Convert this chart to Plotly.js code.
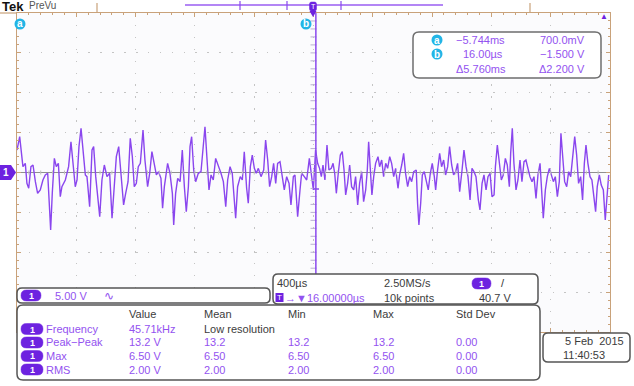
<!DOCTYPE html>
<html><head><meta charset="utf-8">
<script src="https://cdn.plot.ly/plotly-3.0.1.min.js"></script>
<style>html,body{margin:0;padding:0;background:#fff}#c{width:634px;height:386px}</style>
</head><body><div id="c"></div>
<script>
// ---- data ----
const timeUs = [-2000,-1982,-1960,-1944,-1933,-1921,-1906,-1892,-1876,-1861,-1843,-1825,-1809,-1793,-1780,-1773,-1762,-1748,-1735,-1721,-1708,-1697,-1674,-1652,-1636,-1622,-1607,-1595,-1582,-1568,-1555,-1539,-1528,-1510,-1494,-1483,-1469,-1456,-1442,-1427,-1411,-1393,-1375,-1359,-1344,-1330,-1314,-1299,-1281,-1267,-1251,-1236,-1222,-1209,-1195,-1182,-1168,-1150,-1137,-1119,-1105,-1090,-1074,-1060,-1045,-1029,-1018,-1006,
-984,-968,-952,-943,-930,-916,-900,-885,-871,-858,-844,-833,-822,-808,-795,-777,-759,-745,-732,-718,-705,-691,-676,-660,-642,-624,-608,-592,-579,-563,-548,-534,-525,-512,-494,-480,-467,-451,-440,-426,-413,-399,-386,-372,-354,-336,-323,-309,-296,-282,-269,-255,-242,-226,-210,-197,-181,-165,-152,-136,-125,-107,-91,-80,-62,-46,-28,-12,-1,
14,28,41,53,64,77,91,104,120,132,143,154,167,181,194,206,217,230,244,257,271,284,298,311,325,338,352,363,372,383,394,406,419,435,446,460,473,487,500,514,527,541,554,570,581,595,608,621,635,649,662,676,693,702,711,723,734,747,761,774,788,801,815,824,837,851,864,878,891,905,918,932,945,959,972,986,
1002,1015,1029,1042,1056,1069,1083,1096,1112,1123,1137,1150,1164,1177,1191,1204,1218,1227,1240,1253,1267,1280,1294,1307,1321,1330,1341,1352,1366,1379,1393,1406,1420,1433,1447,1460,1474,1487,1501,1514,1528,1539,1550,1564,1577,1591,1604,1618,1631,1645,1658,1669,1681,1694,1708,1721,1735,1748,1762,1775,1788,1802,1815,1827,1838,1851,1865,1878,1892,1903,1914,1928,1941,1955,1968,1982,1991];
const volts = [2.82,4.49,0.73,1.15,-1.36,-1.98,0.73,0.94,-1.15,-2.61,-2.19,-0.94,-0.31,-0.10,-4.70,-7.20,-2.61,1.77,0.73,1.15,-3.03,-1.78,-0.94,0.73,3.86,0.73,-1.78,-0.94,3.24,5.53,2.40,-0.31,-0.52,-4.28,2.82,3.24,-0.52,-2.61,-5.53,-0.94,0.94,-0.52,-0.10,-5.74,-1.36,1.98,3.24,-0.52,-4.07,-2.61,-1.15,4.28,1.98,-1.78,-1.36,0.73,1.15,5.33,1.57,-1.78,-0.10,2.61,1.15,-0.31,0.10,-0.73,-4.49,-1.78,
1.15,-0.10,-2.61,-6.58,-2.61,-0.73,-1.15,2.82,-1.78,-4.91,-1.78,3.24,4.49,0.31,-1.15,-0.10,0.10,3.66,5.74,1.57,-2.19,-0.31,-0.94,1.77,0.94,-0.10,-1.15,-4.28,-0.94,0.73,-0.10,-3.86,-5.74,-1.78,-0.52,-0.94,2.61,-1.98,-3.86,0.73,2.19,0.52,-0.10,0.52,-0.52,0.31,4.07,1.57,-1.78,-0.52,1.15,-1.36,1.15,1.36,-0.94,-2.19,-0.52,-1.36,-4.07,-0.52,-0.31,-5.53,-2.19,-0.10,-0.52,-0.94,1.77,-0.52,-2.19,
2.82,1.15,0.52,-0.52,0.94,-0.94,3.45,0.31,0.52,1.15,-0.10,-2.61,-0.10,2.19,2.61,0.31,-2.82,-1.36,0.94,-1.78,-2.19,-0.52,-4.07,-1.36,0.10,-3.65,-2.19,0.31,3.86,-0.10,-2.82,-0.52,1.15,1.98,0.73,1.57,-0.52,1.15,0.52,1.98,1.15,-0.52,0.52,-1.98,-0.31,0.94,2.40,-0.10,-1.78,-0.52,-1.15,0.10,0.31,-3.86,-6.58,-3.86,-0.31,0.10,-1.15,-2.19,-0.10,1.15,-0.52,-2.19,0.31,2.40,0.73,1.57,-0.31,0.73,3.24,0.94,-0.31,0.10,1.15,-2.40,
0.31,2.82,0.73,-0.52,-3.45,0.52,0.10,-0.52,-3.45,-4.70,-1.36,-0.31,-2.19,-0.52,-0.10,-3.03,-2.82,0.73,3.45,0.94,-0.94,-0.31,1.77,0.94,-1.78,2.40,5.53,1.15,-2.19,-0.94,1.57,-1.15,1.36,1.57,0.31,-0.52,-1.15,-0.52,-3.24,-0.31,1.15,-3.03,-5.74,-2.19,-0.52,0.52,-0.31,-1.15,-0.52,-3.03,-1.15,4.91,1.98,-1.15,-1.78,0.10,-0.52,2.40,4.49,2.19,-1.36,-0.52,-3.45,1.15,3.45,1.15,-0.52,-0.94,-3.03,-4.91,-1.78,-0.31,-1.57,-2.19,-5.95,-2.19,-0.31];

const timePerDivUs = 400;
const voltsPerDiv = 5;
const cursorBTimeUs = 16;
const cursorTimeText = ['\u22125.744ms', '16.00\u00b5s', '\u03945.760ms'];
const cursorVoltText = ['700.0mV', '\u22121.500 V', '\u03942.200 V'];
const chScaleText = '5.00 V';
const horizTexts = ['400\u00b5s', '2.50MS/s', '16.00000\u00b5s', '10k points', '40.7 V'];
const measHeaders = ['Value', 'Mean', 'Min', 'Max', 'Std Dev'];
const measNames = ['Frequency', 'Peak\u2212Peak', 'Max', 'RMS'];
const measValue = ['45.71kHz', '13.2 V', '6.50 V', '2.00 V'];
const measMean = ['Low resolution', '13.2', '6.50', '2.00'];
const measMin = ['', '13.2', '6.50', '2.00'];
const measMax = ['', '13.2', '6.50', '2.00'];
const measStd = ['', '0.00', '0.00', '0.00'];
const dateText = ['5 Feb  2015', '11:40:53'];

// ---- geometry helpers ----
const L = 17, R = 610, T = 13, B = 332;
const px = x => (x - L) / (R - L);
const py = y => (B - y) / (B - T);
const F = 'Liberation Sans, Arial, sans-serif';
const PURP = '#9352f0', DARKP = '#6d22e0', TAN = '#c9a27a', GRAY = '#3c3c3c', CYAN = '#22b5e6';

function rr(x0, y0, x1, y1, r) {
  const P = (x, y) => px(x).toFixed(5) + ',' + py(y).toFixed(5);
  return 'M' + P(x0 + r, y0) + ' L' + P(x1 - r, y0) + ' Q' + P(x1, y0) + ' ' + P(x1, y0 + r) +
    ' L' + P(x1, y1 - r) + ' Q' + P(x1, y1) + ' ' + P(x1 - r, y1) +
    ' L' + P(x0 + r, y1) + ' Q' + P(x0, y1) + ' ' + P(x0, y1 - r) +
    ' L' + P(x0, y0 + r) + ' Q' + P(x0, y0) + ' ' + P(x0 + r, y0) + ' Z';
}
const shapes = [];
const ann = [];
function box(x0, y0, x1, y1, r, fill, line, w) {
  shapes.push({type: 'path', xref: 'paper', yref: 'paper', path: rr(x0, y0, x1, y1, r),
    fillcolor: fill, line: {color: line, width: w === undefined ? 1.5 : w}});
}
function seg(x0, y0, x1, y1, color, w) {
  shapes.push({type: 'line', xref: 'paper', yref: 'paper', x0: px(x0), y0: py(y0), x1: px(x1), y1: py(y1),
    line: {color: color, width: w || 1}});
}
function txt(x, y, text, color, size, anchor, extra) {
  ann.push(Object.assign({xref: 'paper', yref: 'paper', x: px(x), y: py(y), text: text, showarrow: false,
    xanchor: anchor || 'left', yanchor: 'middle', borderpad: 0,
    font: {family: F, size: size || 11, color: color || PURP}}, extra || {}));
}
function pill(x0, y0, x1, y1) {
  box(x0, y0, x1, y1, (y1 - y0) / 2, DARKP, DARKP, 0.5);
  txt((x0 + x1) / 2, (y0 + y1) / 2 + 0.5, '1', '#ffffff', 9, 'center', {font: {family: F, size: 9, color: '#fff', weight: 'bold'}});
}
function circ(cx, cy, r, letter) {
  shapes.push({type: 'circle', xref: 'paper', yref: 'paper', x0: px(cx - r), x1: px(cx + r), y0: py(cy + r), y1: py(cy - r),
    fillcolor: CYAN, line: {color: CYAN, width: 0}});
  txt(cx, cy, letter, '#ffffff', 10, 'center', {font: {family: F, size: 10, color: '#fff', weight: 'bold'}});
}

// graticule centre-line minor ticks (decoration)
for (let k = 1; k < 40; k++) {
  const y = T + k * (B - T) / 40;
  seg(310.5, y, 316.5, y, '#b9b0d0', 1);
}
for (let k = 1; k < 50; k++) {
  const x = L + k * (R - L) / 50;
  seg(x, 170.5, x, 174.5, '#c0c0c0', 1);
}

// ---- top record-view bar ----
seg(0, T, L, T, TAN, 1.2);
seg(97, 3, 97, T, TAN, 1.2);
seg(530, 3, 530, T, TAN, 1.2);
seg(185, 5, 443, 5, '#9a5ef2', 1.6);
[240, 287, 341].forEach(x => seg(x, 1, x, 10, '#8a48ee', 1.2));
// trigger position marker
box(309.5, 2, 316.5, 11, 2, DARKP, DARKP, 0.5);
shapes.push({type: 'path', xref: 'paper', yref: 'paper', path: 'M' + px(309.5) + ',' + py(11) + ' L' + px(316.5) + ',' + py(11) + ' L' + px(313) + ',' + py(17) + ' Z', fillcolor: DARKP, line: {width: 0}});
txt(313, 6.5, 'T', '#ffffff', 7, 'center');
// cursor b vertical line
shapes.push({type: 'line', xref: 'x', yref: 'paper', x0: cursorBTimeUs, x1: cursorBTimeUs, y0: 0, y1: 1,
  line: {color: '#8a48ee', width: 1.5}});
seg(313, 189, 319, 189, '#8a48ee', 1.5);
// channel 1 ground marker
shapes.push({type: 'path', xref: 'paper', yref: 'paper',
  path: 'M' + px(0) + ',' + py(165) + ' L' + px(11) + ',' + py(165) + ' L' + px(16) + ',' + py(172.5) + ' L' + px(11) + ',' + py(180) + ' L' + px(0) + ',' + py(180) + ' Z',
  fillcolor: DARKP, line: {width: 0}});
txt(6, 173, '1', '#ffffff', 10, 'center', {font: {family: F, size: 10, color: '#fff', weight: 'bold'}});

// cursor labels
circ(20, 24, 5.5, 'a');
circ(306, 24, 5.5, 'b');
txt(604, 17, '\u25b2', '#6d22e0', 8, 'center');

// Tek PreVu
txt(1, 7, 'Tek', '#111111', 13, 'left', {font: {family: F, size: 13, color: '#111', weight: 'bold'}});
txt(28, 6, 'PreVu', '#555555', 10);

// cursor readout box
box(413, 32, 601, 78, 6, '#ffffff', '#6e6e6e', 1.5);
circ(437, 40, 5.5, 'a');
circ(437, 54, 5.5, 'b');
txt(455, 40, cursorTimeText[0]);
txt(462, 54, cursorTimeText[1]);
txt(455, 69, cursorTimeText[2]);
cursorVoltText.forEach((s, i) => txt(586, 40 + i * 14.5, s, PURP, 11, 'right'));

// channel box
box(17, 288, 270, 303, 5, '#ffffff', '#555555', 1.5);
pill(21, 290, 41, 301);
txt(54, 295.5, chScaleText);
txt(103, 295.5, '\u223f', PURP, 12);

// horizontal / trigger box
box(273, 274, 538, 304, 5, '#ffffff', '#555555', 1.5);
txt(276, 283, horizTexts[0], GRAY);
txt(383, 283, horizTexts[1], GRAY);
pill(472, 278, 491, 289);
txt(500, 283, '/', '#333333', 11);
shapes.push({type: 'rect', xref: 'paper', yref: 'paper', x0: px(275.5), x1: px(283.5), y0: py(302), y1: py(293), fillcolor: DARKP, line: {width: 0}});
txt(279.5, 297.5, 'T', '#ffffff', 8, 'center');
txt(284, 297.5, '\u2192\u25bc' + horizTexts[2], PURP, 11);
txt(383, 297.5, horizTexts[3], GRAY);
txt(478, 297.5, horizTexts[4], GRAY);

// measurement box
box(17, 305, 540, 380, 6, '#ffffff', '#555555', 1.5);
const colX = [128, 203, 287, 372, 455];
measHeaders.forEach((h, i) => txt(colX[i], 314, h, GRAY));
const rowY = [329, 342.5, 356, 369.5];
measNames.forEach((n, i) => {
  pill(21, rowY[i] - 5.5, 43, rowY[i] + 5.5);
  txt(45, rowY[i], n);
  txt(colX[0], rowY[i], measValue[i]);
  txt(colX[1], rowY[i], measMean[i], i === 0 ? GRAY : PURP);
  if (measMin[i]) txt(colX[2], rowY[i], measMin[i]);
  if (measMax[i]) txt(colX[3], rowY[i], measMax[i]);
  if (measStd[i]) txt(colX[4], rowY[i], measStd[i]);
});

// date box
box(543, 333, 630, 362, 5, '#ffffff', '#555555', 1.5);
txt(625, 341, dateText[0], GRAY, 11, 'right');
txt(562, 355, dateText[1], GRAY);

const trace = {
  type: 'scatter', mode: 'lines', x: timeUs, y: volts,
  line: {color: '#8a46ee', width: 1.4}, hoverinfo: 'skip'
};

const axisCommon = {
  showticklabels: false, showline: true, linecolor: TAN, linewidth: 1.2, mirror: 'allticks',
  ticks: 'inside', ticklen: 4, tickcolor: TAN, showgrid: true, gridcolor: '#c4c4c4', gridwidth: 1,
  griddash: '1.5px,10.4px', fixedrange: true
};
const layout = {
  width: 634, height: 386, margin: {l: L, r: 634 - R, t: T, b: 386 - B, pad: 0},
  paper_bgcolor: '#ffffff', plot_bgcolor: '#fbfbfd', showlegend: false,
  xaxis: Object.assign({}, axisCommon, {range: [-5 * timePerDivUs, 5 * timePerDivUs], tick0: -2000, dtick: timePerDivUs,
    zeroline: false, minor: {dtick: timePerDivUs / 5, ticks: 'inside', ticklen: 2, tickcolor: TAN, showgrid: false}}),
  yaxis: Object.assign({}, axisCommon, {range: [-4 * voltsPerDiv, 4 * voltsPerDiv], tick0: -20, dtick: voltsPerDiv,
    zeroline: true, zerolinecolor: '#8f8f8f', zerolinewidth: 1.2,
    minor: {dtick: voltsPerDiv / 5, ticks: 'inside', ticklen: 2, tickcolor: TAN, showgrid: false}}),
  shapes: shapes, annotations: ann
};
Plotly.newPlot('c', [trace], layout, {displayModeBar: false, staticPlot: true});
</script></body></html>
